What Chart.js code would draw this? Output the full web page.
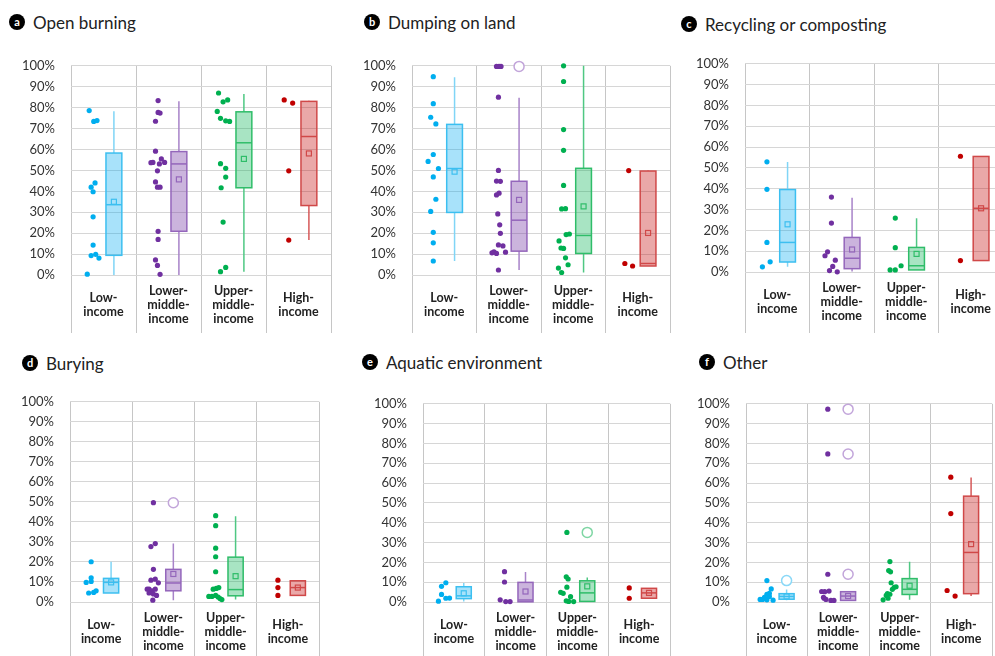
<!DOCTYPE html>
<html>
<head>
<meta charset="utf-8">
<script src="https://cdn.jsdelivr.net/npm/chart.js@4.4.0/dist/chart.umd.min.js"></script>
<style>
html, body { margin: 0; padding: 0; background: #fff; overflow: hidden; width: 995px; height: 656px; }
canvas { position: absolute; }
.title { position: absolute; height: 20px; display: flex; align-items: center; font-family: Lato, sans-serif; font-size: 17px; color: #222; white-space: nowrap; }
.badge { display: inline-block; width: 16px; height: 16px; border-radius: 50%; background: #000; color: #fff; font-size: 11px; font-weight: bold; text-align: center; line-height: 15px; margin-right: 8px; }
</style>
</head>
<body>
<div class="title" style="left:9px;top:12px"><span class="badge">a</span>Open burning</div>
<div class="title" style="left:364px;top:12px"><span class="badge">b</span>Dumping on land</div>
<div class="title" style="left:681px;top:14px"><span class="badge">c</span>Recycling or composting</div>
<div class="title" style="left:22px;top:353px"><span class="badge">d</span>Burying</div>
<div class="title" style="left:362px;top:352px"><span class="badge">e</span>Aquatic environment</div>
<div class="title" style="left:699px;top:352px"><span class="badge">f</span>Other</div>

<canvas id="c_burn"></canvas>
<canvas id="c_dump"></canvas>
<canvas id="c_recycle"></canvas>
<canvas id="c_bury"></canvas>
<canvas id="c_aquatic"></canvas>
<canvas id="c_other"></canvas>

<script>
// categories
const groups = [['Low-', 'income'], ['Lower-', 'middle-', 'income'], ['Upper-', 'middle-', 'income'], ['High-', 'income']];

// ---- a: open burning ---- points are [x within category, value %]
const burnPts = [
    [[0.28,78.6],[0.35,73.4],[0.40,73.8],[0.31,42.0],[0.37,44.0],[0.34,39.8],[0.34,27.8],[0.34,14.3],[0.31,9.3],[0.38,9.9],[0.43,8.1],[0.25,0.4]],
    [[0.34,83.4],[0.34,77.7],[0.37,77.4],[0.30,73.5],[0.30,59.2],[0.39,55.5],[0.23,53.7],[0.26,53.8],[0.36,53.1],[0.44,53.8],[0.33,49.8],[0.30,44.5],[0.33,42.0],[0.37,42.0],[0.34,20.9],[0.34,17.0],[0.30,7.2],[0.33,4.6],[0.37,0.3]],
    [[0.27,87.0],[0.34,82.8],[0.41,83.7],[0.25,78.2],[0.30,74.9],[0.38,73.7],[0.44,73.4],[0.30,53.2],[0.38,51.0],[0.38,46.8],[0.31,41.7],[0.34,25.3],[0.38,3.6],[0.30,1.6]],
    [[0.28,83.7],[0.41,82.2],[0.35,49.8],[0.35,16.7]]
];
const burnQ1 = [9.4, 20.9, 41.7, 33.2];
const burnQ3 = [58.3, 59.0, 78.0, 83.0];
const burnMed = [33.6, 53.1, 63.2, 66.2];
const burnMean = [35.0, 45.7, 55.5, 58.1];
const burnLo = [0, 0, 1.6, 16.7];
const burnHi = [78.3, 83.1, 86.5, 83.3];
const burnOut = [[], [], [], []];

// ---- b: dumping on land ----
const dumpPts = [
    [[0.33,94.8],[0.33,81.9],[0.29,75.4],[0.37,72.2],[0.33,57.6],[0.25,54.3],[0.41,50.9],[0.33,46.9],[0.37,36.2],[0.29,30.4],[0.33,20.4],[0.33,15.4],[0.33,6.7]],
    [[0.31,99.7],[0.35,99.7],[0.38,99.7],[0.34,85.0],[0.34,50.0],[0.31,44.9],[0.37,44.8],[0.31,38.3],[0.35,39.1],[0.33,29.2],[0.36,24.0],[0.37,19.9],[0.34,14.4],[0.41,13.9],[0.24,10.6],[0.27,11.1],[0.31,10.3],[0.45,10.9],[0.34,2.4]],
    [[0.35,100],[0.35,92.5],[0.35,69.5],[0.35,59.6],[0.35,42.8],[0.32,31.6],[0.38,31.7],[0.28,16.3],[0.31,12.9],[0.35,12.7],[0.39,19.3],[0.44,19.6],[0.38,8.2],[0.42,4.9],[0.27,3.3],[0.32,1.2]],
    [[0.36,49.9],[0.30,5.5],[0.42,4.3]]
];
const dumpQ1 = [29.9, 11.4, 10.3, 4.3];
const dumpQ3 = [72.0, 44.8, 51.0, 49.7];
const dumpMed = [50.9, 26.2, 18.9, 5.5];
const dumpMean = [49.4, 35.9, 32.8, 20.1];
const dumpLo = [6.7, 2.4, 1.2, 4.3];
const dumpHi = [94.5, 84.7, 100, 49.9];
const dumpOut = [[], [99.7], [], []];

// ---- c: recycling or composting ----
const recyclePts = [
    [[0.34,52.9],[0.34,39.7],[0.34,14.2],[0.39,4.9],[0.27,2.5]],
    [[0.34,36.0],[0.34,23.5],[0.28,9.7],[0.24,7.8],[0.40,5.7],[0.36,2.7],[0.31,0.7],[0.43,0.1]],
    [[0.33,25.9],[0.33,11.7],[0.42,3.0],[0.25,1.0],[0.33,1.0]],
    [[0.34,55.6],[0.34,5.5]]
];
const recycleQ1 = [4.8, 1.6, 1.0, 5.5];
const recycleQ3 = [39.6, 16.6, 11.8, 55.5];
const recycleMed = [14.2, 6.6, 3.0, 30.6];
const recycleMean = [22.9, 10.8, 8.7, 30.6];
const recycleLo = [2.5, 0.3, 1.0, 5.5];
const recycleHi = [52.8, 35.7, 25.8, 55.5];
const recycleOut = [[], [], [], []];

// ---- d: burying ----
const buryPts = [
    [[0.34,20.1],[0.34,12.1],[0.26,9.8],[0.34,10.3],[0.30,4.5],[0.38,4.8],[0.42,5.6]],
    [[0.34,49.6],[0.30,27.7],[0.37,29.2],[0.34,16.3],[0.30,10.9],[0.37,11.4],[0.42,9.6],[0.24,6.4],[0.27,6.5],[0.32,5.6],[0.37,6.4],[0.27,4.5],[0.34,4.0],[0.39,3.3],[0.33,0.9]],
    [[0.34,43.1],[0.34,38.1],[0.34,26.9],[0.34,22.6],[0.34,15.1],[0.30,6.4],[0.35,6.8],[0.39,7.2],[0.23,2.8],[0.28,2.8],[0.34,3.3],[0.38,2.5],[0.41,1.7],[0.44,1.2]],
    [[0.34,10.9],[0.34,7.2],[0.34,3.3]]
];
const buryQ1 = [4.5, 5.6, 3.1, 3.3];
const buryQ3 = [11.8, 16.3, 22.4, 10.6];
const buryMed = [9.8, 9.5, 6.2, 7.2];
const buryMean = [9.8, 14.0, 12.9, 7.2];
const buryLo = [4.5, 0.9, 1.2, 3.3];
const buryHi = [20.1, 29.2, 42.8, 10.6];
const buryOut = [[], [49.6], [], []];

// ---- e: aquatic environment ----
const aquaticPts = [
    [[0.37,9.7],[0.30,7.9],[0.30,3.8],[0.37,1.9],[0.43,2.0],[0.25,0.4]],
    [[0.32,15.3],[0.32,10.1],[0.25,1.1],[0.34,0.2],[0.41,0.2]],
    [[0.33,35.1],[0.32,12.7],[0.35,11.6],[0.33,7.5],[0.23,4.9],[0.27,4.4],[0.39,2.7],[0.32,0.6],[0.36,0.3],[0.44,0.2]],
    [[0.34,7.1],[0.34,1.9]]
];
const aquaticQ1 = [1.7, 0.1, 0.3, 1.9];
const aquaticQ3 = [7.7, 9.9, 10.7, 6.9];
const aquaticMed = [3.1, 1.0, 4.6, 4.6];
const aquaticMean = [4.4, 5.3, 7.9, 4.6];
const aquaticLo = [0.3, 0, 0.2, 1.9];
const aquaticHi = [9.6, 15.1, 12.3, 6.9];
const aquaticOut = [[], [], [35.1], []];

// ---- f: other ----
const otherPts = [
    [[0.34,10.8],[0.41,6.6],[0.34,3.9],[0.38,4.4],[0.30,2.4],[0.38,2.8],[0.23,1.3],[0.27,1.3],[0.34,1.1],[0.44,0.9]],
    [[0.33,97.3],[0.33,74.7],[0.33,14.0],[0.23,5.3],[0.28,5.2],[0.35,5.5],[0.27,1.9],[0.30,1.3],[0.38,0.8],[0.43,0.8],[0.26,2.4]],
    [[0.34,20.4],[0.32,15.9],[0.35,15.2],[0.36,9.7],[0.41,7.4],[0.44,7.7],[0.38,6.4],[0.30,4.2],[0.34,3.9],[0.28,3.3],[0.31,1.9],[0.23,1.1]],
    [[0.33,63.0],[0.33,44.6],[0.27,5.8],[0.40,3.0]]
];
const otherQ1 = [1.4, 0.8, 3.8, 4.2];
const otherQ3 = [4.2, 5.2, 11.8, 53.4];
const otherMed = [2.8, 3.0, 6.4, 25.0];
const otherMean = [2.8, 3.0, 8.2, 29.2];
const otherLo = [0.9, 0.8, 1.1, 3.0];
const otherHi = [6.3, 5.2, 20.3, 62.8];
const otherOut = [[10.8], [97.3, 74.7, 14.0], [], []];

// colours per income group
const dot_colors = ['#00aeef', '#7030a0', '#00b050', '#c00000'];
const box_fills = ['rgba(0,170,240,0.34)', 'rgba(112,48,160,0.36)', 'rgba(0,176,80,0.34)', 'rgba(192,0,0,0.34)'];
const box_lines = ['#3cbff0', '#9466bb', '#2fbd69', '#d04848'];
const whisker_lines = ['#80d5f6', '#a883c9', '#4fc883', '#d65a5a'];
const outlier_lines = ['#8ad8f7', '#c2a5da', '#7fd6a4', '#e39a9a'];

const BOX_X = 0.66, BOX_HALF = 0.122, Y_AXIS_W = 60, PAD_TOP = 10;

const box_plugin = (b) => ({
    id: 'boxes',
    beforeDatasetsDraw(chart) {
        const ctx = chart.ctx;
        const x = chart.scales.x, y = chart.scales.y;
        const half = x.getPixelForValue(BOX_HALF) - x.getPixelForValue(0);
        ctx.save();
        b.q1.forEach((q1, i) => {
            const cx = x.getPixelForValue(i + BOX_X);
            const top = y.getPixelForValue(b.q3[i]);
            const bot = y.getPixelForValue(q1);

            // whiskers
            ctx.strokeStyle = whisker_lines[i];
            ctx.lineWidth = 1.5;
            ctx.beginPath();
            ctx.moveTo(cx, y.getPixelForValue(b.hi[i]));
            ctx.lineTo(cx, top);
            ctx.moveTo(cx, bot);
            ctx.lineTo(cx, y.getPixelForValue(b.lo[i]));
            ctx.stroke();

            // box
            ctx.fillStyle = box_fills[i];
            ctx.fillRect(cx - half, top, half * 2, bot - top);
            ctx.strokeStyle = box_lines[i];
            ctx.lineWidth = 1.5;
            ctx.strokeRect(cx - half, top, half * 2, bot - top);

            // median
            const my = y.getPixelForValue(b.med[i]);
            ctx.beginPath();
            ctx.moveTo(cx - half, my);
            ctx.lineTo(cx + half, my);
            ctx.stroke();

            // mean
            const ay = y.getPixelForValue(b.mean[i]);
            ctx.lineWidth = 1.2;
            ctx.strokeRect(cx - 2.5, ay - 2.5, 5, 5);

            // outliers
            ctx.strokeStyle = outlier_lines[i];
            ctx.lineWidth = 1.5;
            b.out[i].forEach((v) => {
                ctx.beginPath();
                ctx.arc(cx, y.getPixelForValue(v), 5, 0, Math.PI * 2);
                ctx.fillStyle = '#fff';
                ctx.fill();
                ctx.stroke();
            });
        });
        ctx.restore();
    }
});

const make_panel = (id, pos, pts, b) => {
    const canvas = document.getElementById(id);
    const w = Y_AXIS_W + (pos.right - pos.left) + 4;
    const h = PAD_TOP + (pos.extent - pos.top);
    const x_h = pos.extent - pos.bottom;
    canvas.width = w;
    canvas.height = h;
    canvas.style.left = (pos.left - Y_AXIS_W) + 'px';
    canvas.style.top = (pos.top - PAD_TOP) + 'px';
    canvas.style.width = w + 'px';
    canvas.style.height = h + 'px';

    const datasets = pts.map((group, i) => ({
        data: group.map((p) => ({ x: i + p[0], y: p[1] })),
        backgroundColor: dot_colors[i],
        borderWidth: 0,
        pointRadius: 2.6,
        clip: false,
    }));

    new Chart(canvas.getContext('2d'), {
        type: 'scatter',
        data: { datasets: datasets },
        options: {
            responsive: false,
            animation: false,
            events: [],
            layout: { padding: { top: PAD_TOP, right: 4, left: 0, bottom: 0 } },
            plugins: { legend: { display: false }, tooltip: { enabled: false } },
            scales: {
                x: {
                    type: 'linear',
                    min: 0,
                    max: 4,
                    afterBuildTicks: (s) => { s.ticks = [0, 0.5, 1, 1.5, 2, 2.5, 3, 3.5, 4].map((v) => ({ value: v })); },
                    afterFit: (s) => { s.height = x_h; },
                    border: { display: false },
                    grid: {
                        color: (c) => (c.tick && c.tick.value % 1 === 0 ? '#c6c6c6' : 'rgba(0,0,0,0)'),
                        lineWidth: 1,
                        tickLength: x_h,
                    },
                    ticks: {
                        autoSkip: false,
                        maxRotation: 0,
                        crossAlign: 'center',
                        padding: 16 - x_h,
                        color: '#222',
                        font: { family: 'Lato', size: 12.5, weight: 'bold', lineHeight: 1.12 },
                        callback: (v) => (v % 1 ? groups[Math.floor(v)] : ''),
                    },
                },
                y: {
                    min: 0,
                    max: 100,
                    afterFit: (s) => { s.width = Y_AXIS_W; },
                    border: { display: false },
                    grid: { color: '#d6d6d6', lineWidth: 1, drawTicks: false },
                    ticks: {
                        stepSize: 10,
                        padding: 16,
                        color: '#333',
                        font: { family: 'Lato', size: 13 },
                        callback: (v) => v + '%',
                    },
                },
            },
        },
        plugins: [box_plugin(b)],
    });
};

make_panel('c_burn', { left: 71, right: 331, top: 52, bottom: 275, extent: 333 }, burnPts,
    { q1: burnQ1, q3: burnQ3, med: burnMed, mean: burnMean, lo: burnLo, hi: burnHi, out: burnOut });
make_panel('c_dump', { left: 412, right: 670, top: 52, bottom: 275, extent: 333 }, dumpPts,
    { q1: dumpQ1, q3: dumpQ3, med: dumpMed, mean: dumpMean, lo: dumpLo, hi: dumpHi, out: dumpOut });
make_panel('c_recycle', { left: 745, right: 1003, top: 50, bottom: 272, extent: 333 }, recyclePts,
    { q1: recycleQ1, q3: recycleQ3, med: recycleMed, mean: recycleMean, lo: recycleLo, hi: recycleHi, out: recycleOut });
make_panel('c_bury', { left: 70, right: 319, top: 388, bottom: 602, extent: 660 }, buryPts,
    { q1: buryQ1, q3: buryQ3, med: buryMed, mean: buryMean, lo: buryLo, hi: buryHi, out: buryOut });
make_panel('c_aquatic', { left: 423, right: 670, top: 390, bottom: 602, extent: 660 }, aquaticPts,
    { q1: aquaticQ1, q3: aquaticQ3, med: aquaticMed, mean: aquaticMean, lo: aquaticLo, hi: aquaticHi, out: aquaticOut });
make_panel('c_other', { left: 746, right: 992, top: 390, bottom: 602, extent: 660 }, otherPts,
    { q1: otherQ1, q3: otherQ3, med: otherMed, mean: otherMean, lo: otherLo, hi: otherHi, out: otherOut });
</script>
</body>
</html>
